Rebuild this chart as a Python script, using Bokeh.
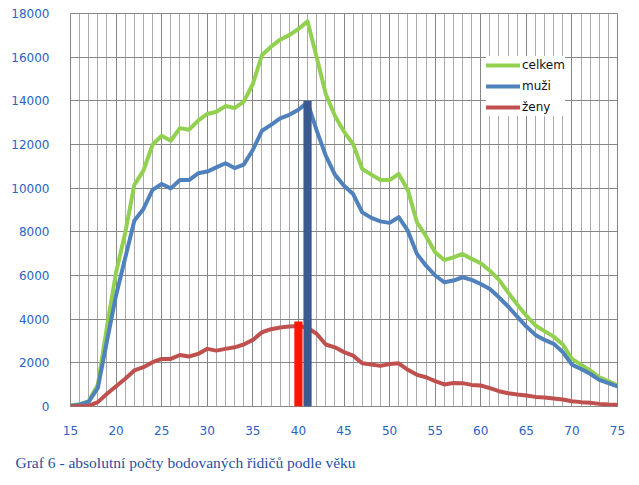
from bokeh.plotting import figure
from bokeh.models import Range1d, SingleIntervalTicker, Legend, LegendItem, Title
from bokeh.embed import file_html
from bokeh.resources import INLINE

ages = list(range(15, 76))
celkem = [50, 100, 250, 1000, 3650, 6150, 7950, 10150, 10800, 11990,
          12400, 12170, 12750, 12680, 13090, 13400, 13500, 13760, 13670, 13960,
          14770, 16100, 16480, 16800, 17010, 17290, 17640, 16000, 14310, 13320,
          12590, 12020, 10880, 10620, 10370, 10370, 10650, 9920, 8440, 7800,
          7060, 6710, 6830, 6990, 6760, 6560, 6220, 5800, 5230, 4670,
          4160, 3710, 3450, 3200, 2840, 2180, 1920, 1650, 1340, 1160, 960]
muzi = [30, 80, 220, 850, 3000, 5100, 6800, 8510, 9050, 9920,
        10190, 9990, 10370, 10370, 10680, 10760, 10950, 11140, 10920, 11080,
        11750, 12630, 12900, 13200, 13360, 13590, 13930, 12650, 11490, 10620,
        10110, 9730, 8890, 8640, 8480, 8410, 8670, 8050, 6990, 6450,
        6000, 5690, 5770, 5920, 5800, 5610, 5380, 5000, 4580, 4120,
        3660, 3280, 3050, 2870, 2490, 1920, 1720, 1500, 1220, 1070, 920]
zeny = [10, 10, 30, 200, 580, 930, 1270, 1650, 1800, 2030,
        2180, 2180, 2360, 2290, 2410, 2640, 2560, 2640, 2710, 2840,
        3050, 3400, 3540, 3620, 3660, 3690, 3600, 3330, 2840, 2710,
        2490, 2330, 1980, 1920, 1860, 1950, 1980, 1680, 1450, 1340,
        1160, 1010, 1080, 1070, 990, 960, 840, 700, 610, 550,
        500, 440, 410, 370, 320, 240, 200, 170, 120, 90, 80]
bar_ages = [40, 41]
bar_tops = [3890, 14000]
bar_colors = ["#FF1500", "#3B5A8E"]
series_names = ["celkem", "muži", "ženy"]
caption = "Graf 6 - absolutní počty bodovaných řidičů podle věku"

p = figure(width=639, height=485, output_backend="svg", toolbar_location=None,
           x_range=Range1d(15, 75), y_range=Range1d(0, 18000),
           min_border_left=70, min_border_right=22, min_border_top=13, min_border_bottom=79)
p.background_fill_color = "white"
p.border_fill_color = "white"
p.outline_line_color = "#868686"
p.outline_line_width = 1

xt = SingleIntervalTicker(interval=5, num_minor_ticks=5)
yt = SingleIntervalTicker(interval=2000, num_minor_ticks=0)
p.xaxis.ticker = xt
p.yaxis.ticker = yt
p.xgrid.ticker = xt
p.ygrid.ticker = yt
p.xgrid.grid_line_color = "#868686"
p.xgrid.minor_grid_line_color = "#ABABAB"
p.ygrid.grid_line_color = "#868686"
p.xgrid.grid_line_width = 1
p.ygrid.grid_line_width = 1
p.xgrid.level = "image"
p.ygrid.level = "image"

for ax in (p.xaxis[0], p.yaxis[0]):
    ax.axis_line_color = None
    ax.major_tick_line_color = None
    ax.minor_tick_line_color = None
    ax.major_label_text_font = "DejaVu Sans"
    ax.major_label_text_font_size = "12px"
    ax.major_label_text_color = "#2A62C4"
p.xaxis.major_label_standoff = 13
p.yaxis.major_label_standoff = 15

colors = ["#92D050", "#4F81BD", "#C0504D"]
rs = []
for vals, c in zip([celkem, muzi, zeny], colors):
    r = p.line(ages, vals, line_color=c, line_width=4, line_join="round", line_cap="round")
    rs.append(r)

p.vbar(x=bar_ages, top=bar_tops, bottom=0, width=0.9, fill_color=bar_colors, line_color=None)

legend = Legend(items=[LegendItem(label=n, renderers=[r]) for n, r in zip(series_names, rs)],
                location=(416, 290), background_fill_color="white", background_fill_alpha=1,
                border_line_color=None, padding=4, spacing=3, margin=0,
                glyph_width=34, glyph_height=18, label_height=18, label_standoff=2,
                label_text_font="DejaVu Sans", label_text_font_size="12px",
                label_text_color="#111111")
p.add_layout(legend, "center")

t = Title(text=caption, align="left", offset=-55, text_font="Liberation Serif",
          text_font_size="15.5px", text_font_style="normal", text_color="#1F4FA6",
          standoff=29, text_line_height=0.4)
p.add_layout(t, "below")

open("out.html", "w").write(file_html(p, INLINE))
